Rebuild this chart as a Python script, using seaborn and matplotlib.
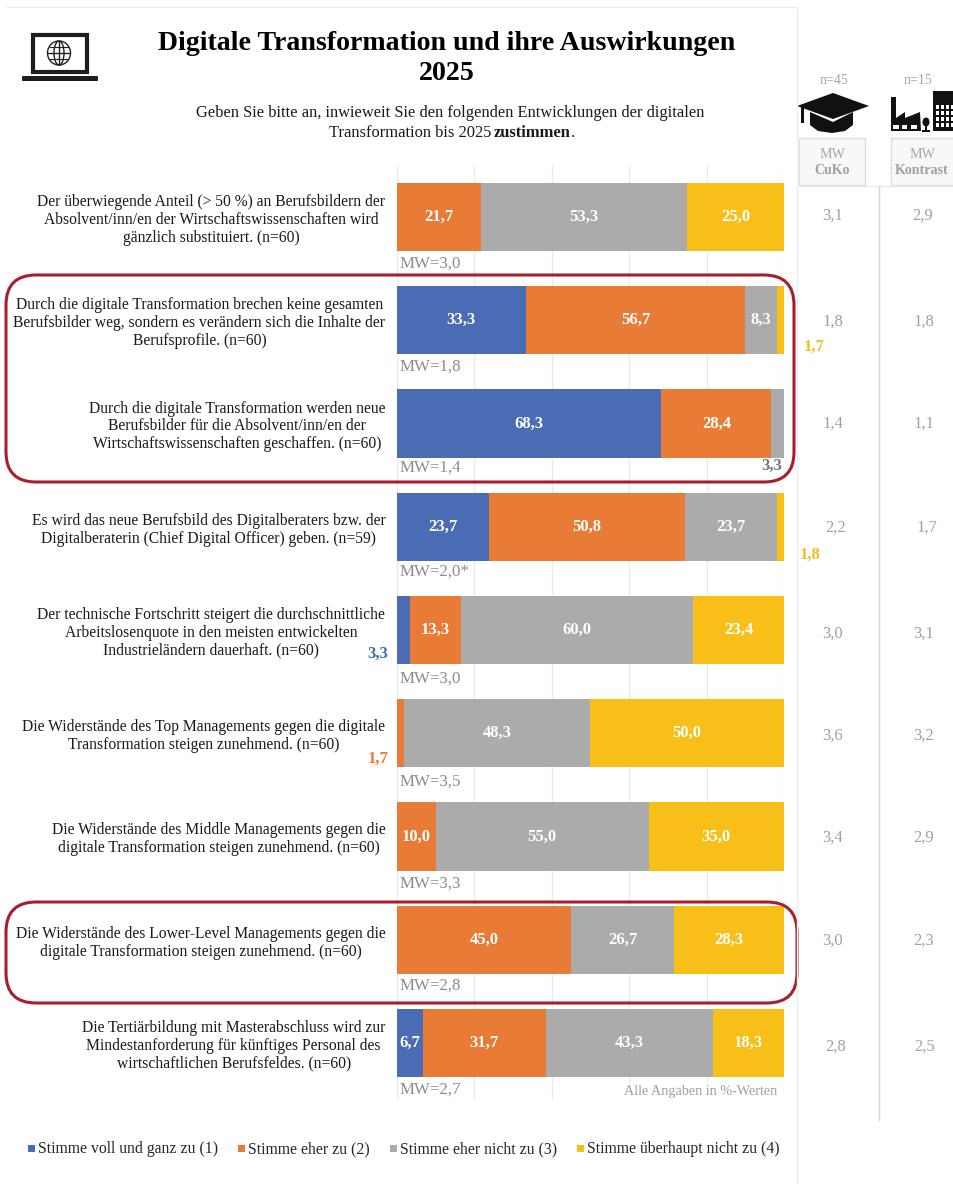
import matplotlib
matplotlib.use("Agg")
import matplotlib.pyplot as plt
from matplotlib.patches import FancyBboxPatch, Rectangle, Polygon, Ellipse
import numpy as np
import pandas as pd
import seaborn as sns

questions = [
    "Der überwiegende Anteil (> 50 %) an Berufsbildern der\nAbsolvent/inn/en der Wirtschaftswissenschaften wird\ngänzlich substituiert. (n=60)",
    "Durch die digitale Transformation brechen keine gesamten\nBerufsbilder weg, sondern es verändern sich die Inhalte der\nBerufsprofile. (n=60)",
    "Durch die digitale Transformation werden neue\nBerufsbilder für die Absolvent/inn/en der\nWirtschaftswissenschaften geschaffen. (n=60)",
    "Es wird das neue Berufsbild des Digitalberaters bzw. der\nDigitalberaterin (Chief Digital Officer) geben. (n=59)",
    "Der technische Fortschritt steigert die durchschnittliche\nArbeitslosenquote in den meisten entwickelten\nIndustrieländern dauerhaft. (n=60)",
    "Die Widerstände des Top Managements gegen die digitale\nTransformation steigen zunehmend. (n=60)",
    "Die Widerstände des Middle Managements gegen die\ndigitale Transformation steigen zunehmend. (n=60)",
    "Die Widerstände des Lower-Level Managements gegen die\ndigitale Transformation steigen zunehmend. (n=60)",
    "Die Tertiärbildung mit Masterabschluss wird zur\nMindestanforderung für künftiges Personal des\nwirtschaftlichen Berufsfeldes. (n=60)",
]
voll = [0, 33.3, 68.3, 23.7, 3.3, 0, 0, 0, 6.7]
eher = [21.7, 56.7, 28.4, 50.8, 13.3, 1.7, 10.0, 45.0, 31.7]
eher_nicht = [53.3, 8.3, 3.3, 23.7, 60.0, 48.3, 55.0, 26.7, 43.3]
gar_nicht = [25.0, 1.7, 0, 1.8, 23.4, 50.0, 35.0, 28.3, 18.3]
mw_gesamt = ["3,0", "1,8", "1,4", "2,0*", "3,0", "3,5", "3,3", "2,8", "2,7"]
mw_cuko = ["3,1", "1,8", "1,4", "2,2", "3,0", "3,6", "3,4", "3,0", "2,8"]
mw_kontrast = ["2,9", "1,8", "1,1", "1,7", "3,1", "3,2", "2,9", "2,3", "2,5"]
series_names = ["Stimme voll und ganz zu (1)", "Stimme eher zu (2)",
                "Stimme eher nicht zu (3)", "Stimme überhaupt nicht zu (4)"]
series_colors = ["#4A6CB5", "#E87B35", "#ABABAB", "#F7BF18"]

sns.set_theme(style="white")
plt.rcParams["font.family"] = ["Liberation Serif", "DejaVu Serif"]
W, H = 954, 1184
fig = plt.figure(figsize=(W / 100, H / 100), dpi=100, facecolor="white")

top_px, bot_px, left_px, right_px = 165, 1100, 397, 784
ax = fig.add_axes([left_px / W, 1 - bot_px / H, (right_px - left_px) / W, (bot_px - top_px) / H])

df = pd.DataFrame({"frage": questions, "voll": voll, "eher": eher,
                   "nicht": eher_nicht, "gar": gar_nicht})
cum = np.zeros(len(df))
for col, name, color in zip(["voll", "eher", "nicht", "gar"], series_names, series_colors):
    sns.barplot(data=df, y="frage", x=col, orient="h", color=color, saturation=1,
                width=0.66, left=cum, label=name, ax=ax, linewidth=0, legend=False, zorder=3)
    vals = df[col].to_numpy()
    cont = ax.containers[-1]
    labs = [f"{v:.1f}".replace(".", ",") if v >= 5 else "" for v in vals]
    ax.bar_label(cont, labels=labs, label_type="center", color="white", fontweight="bold",
                 fontsize=12, zorder=4)
    cum = cum + vals

step = 103.25
ax.set_ylim((bot_px - 217) / step, (top_px - 217) / step)
ax.set_xlim(0, 100)
ax.set_xticks(np.arange(0, 101, 20))
ax.set_xticklabels([])
ax.grid(axis="x", color="#EBEBEB", lw=1, zorder=0)
ax.set_axisbelow(True)
ax.set_xlabel("")
ax.set_ylabel("")
for s in ax.spines.values():
    s.set_visible(False)
ax.tick_params(axis="y", length=0, pad=8.4, labelsize=11.28, labelcolor="#1a1a1a")
for t in ax.get_yticklabels():
    t.set_multialignment("center")
    t.set_linespacing(1.15)

ov = fig.add_axes([0, 0, 1, 1], zorder=10)
ov.set_xlim(0, W)
ov.set_ylim(H, 0)
ov.axis("off")
ov.patch.set_alpha(0)

# page edge
ov.plot([6, 797, 797], [7, 7, H], color="#EDEDED", lw=1)

# title
ov.text(447, 43, "Digitale Transformation und ihre Auswirkungen", ha="center", va="center",
        fontsize=20.1, fontweight="bold", color="black")
ov.text(447, 74, "2025", ha="center", va="center", fontsize=20.1, fontweight="bold", color="black")
ov.text(450, 113, "Geben Sie bitte an, inwieweit Sie den folgenden Entwicklungen der digitalen",
        ha="center", va="center", fontsize=11.9, color="#1a1a1a")
ov.text(491, 137, "Transformation bis 2025", ha="right", va="baseline", fontsize=11.9, color="#1a1a1a")
ov.text(494, 137, "zustimmen", ha="left", va="baseline", fontsize=11.9, fontweight="bold", color="#1a1a1a")
ov.text(571, 137, ".", ha="left", va="baseline", fontsize=11.9, color="#1a1a1a")

# MW labels
mw_y = [264, 367, 468, 572, 679, 782, 884, 986, 1090]
for y, m in zip(mw_y, mw_gesamt):
    ov.text(400, y, f"MW={m}", ha="left", va="center", fontsize=12.2, color="#8c8c8c",
            bbox=dict(fc="white", ec="none", pad=0.5))
ov.text(777, 1092, "Alle Angaben in %-Werten", ha="right", va="center", fontsize=10.2, color="#A0A0A0",
        bbox=dict(fc="white", ec="none", pad=0.8))

# outside labels
ov.text(814, 347, "1,7", ha="center", va="center", fontsize=12, fontweight="bold", color="#F2BE1E")
ov.text(772, 466, "3,3", ha="center", va="center", fontsize=12, fontweight="bold", color="#6E7683")
ov.text(810, 555, "1,8", ha="center", va="center", fontsize=12, fontweight="bold", color="#F2BE1E")
ov.text(378, 654, "3,3", ha="center", va="center", fontsize=12, fontweight="bold", color="#3F6AB5")
ov.text(378, 759, "1,7", ha="center", va="center", fontsize=12, fontweight="bold", color="#E87B35")

# highlight boxes
for x0, y0, x1, y1 in [(6, 275, 794, 482), (6, 902, 797, 1003)]:
    ov.add_patch(FancyBboxPatch((x0 + 30, y0 + 30), x1 - x0 - 60, y1 - y0 - 60,
                                boxstyle="round,pad=30,rounding_size=30",
                                fc="none", ec="#A81E2D", lw=2.2))

# side columns
for x0, x1 in [(799, 865), (891, 954)]:
    ov.add_patch(Rectangle((x0, 138), x1 - x0, 47, fc="#F8F8F8", ec="#DADADA", lw=0.9))
ov.plot([799, 954], [186, 186], color="#EAEAEA", lw=1)
ov.plot([879, 879], [186, 1120], color="#D6D6D6", lw=1)
ov.text(832, 154, "MW", ha="center", va="center", fontsize=10.1, color="#A8A8A8")
ov.text(832, 171, "CuKo", ha="center", va="center", fontsize=10.1, fontweight="bold", color="#A0A0A0")
ov.text(922, 154, "MW", ha="center", va="center", fontsize=10.1, color="#A8A8A8")
ov.text(922, 171, "Kontrast", ha="center", va="center", fontsize=10.1, fontweight="bold", color="#A0A0A0")
ov.text(834, 81, "n=45", ha="center", va="center", fontsize=10, color="#A8A8A8")
ov.text(918, 81, "n=15", ha="center", va="center", fontsize=10, color="#A8A8A8")
side_y = [216, 322, 424, 528, 634, 736, 838, 941, 1047]
cuko_x = [833, 833, 833, 836, 833, 833, 833, 833, 836]
kontrast_x = [923, 924, 924, 927, 924, 924, 924, 924, 925]
for y, xa, xb, a, b in zip(side_y, cuko_x, kontrast_x, mw_cuko, mw_kontrast):
    ov.text(xa, y, a, ha="center", va="center", fontsize=12, color="#A0A0A0")
    ov.text(xb, y, b, ha="center", va="center", fontsize=12, color="#A0A0A0")

# laptop icon
ov.add_patch(Rectangle((33, 35), 54, 37, fc="white", ec="#1d1d1d", lw=3))
ov.add_patch(FancyBboxPatch((23, 77), 74, 3, boxstyle="round,pad=1", fc="#1d1d1d", ec="none"))
ov.add_patch(Ellipse((59, 53), 23, 24, fc="none", ec="#222222", lw=1))
ov.add_patch(Ellipse((59, 53), 10, 24, fc="none", ec="#222222", lw=1))
ov.plot([48, 70], [53, 53], color="#222222", lw=1)
ov.plot([59, 59], [41, 65], color="#222222", lw=1)
ov.plot([50, 68], [47, 47], color="#222222", lw=0.8)
ov.plot([50, 68], [59, 59], color="#222222", lw=0.8)

# graduation cap icon
ov.add_patch(Polygon([(833, 93), (869, 106), (833, 119), (797, 106)], fc="#111111", ec="none"))
ov.add_patch(Polygon([(810, 112), (833, 122), (853, 112), (853, 125), (845, 131), (832, 133),
                      (818, 131), (810, 125)], fc="#111111", ec="none"))
ov.add_patch(Rectangle((801.5, 107), 3, 16, fc="#111111", ec="none"))

# factory and office icon
ov.add_patch(Polygon([(891, 131), (891, 97), (896, 97), (896, 118), (905, 112), (905, 118),
                      (920, 112), (921, 131)], fc="#111111", ec="none"))
for x, w in ((893, 6), (902, 5), (911, 6)):
    ov.add_patch(Rectangle((x, 125), w, 4, fc="white", ec="none"))
ov.add_patch(Ellipse((926, 122), 7, 9, fc="#111111", ec="none"))
ov.add_patch(Rectangle((925, 126), 2, 5, fc="#111111", ec="none"))
ov.add_patch(Rectangle((922, 130), 8, 1.5, fc="#111111", ec="none"))
ov.add_patch(Rectangle((933, 91), 21, 40, fc="#111111", ec="none"))
for x in (936, 941, 946, 951):
    for y in (105, 111, 117, 123):
        ov.add_patch(Rectangle((x, y), 3, 3.5, fc="white", ec="none"))

# legend
legend_x = [27, 237, 389, 576]
for x, name, color in zip(legend_x, series_names, series_colors):
    ov.add_patch(Rectangle((x + 1, 1145), 7, 7, fc=color, ec="none"))
    ov.text(x + 11, 1153, name, ha="left", va="baseline", fontsize=11.35, color="#262626")

fig.savefig("out.png", dpi=100, facecolor="white")
